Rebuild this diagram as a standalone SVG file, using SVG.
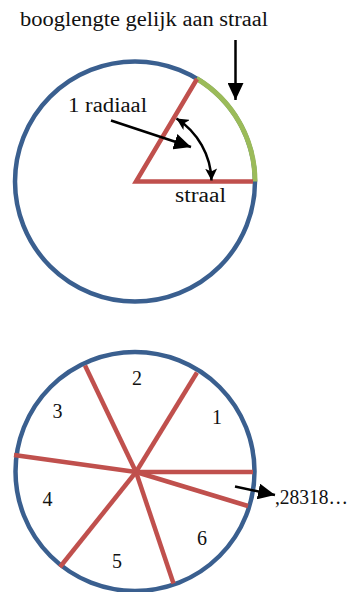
<svg xmlns="http://www.w3.org/2000/svg" width="360" height="592" viewBox="0 0 360 592">
<style>
.circle{fill:#ffffff;stroke:#3A5F8F;stroke-width:4.5}
.red{fill:none;stroke:#C0504D;stroke-width:4.5;stroke-linecap:butt}
.green{fill:none;stroke:#9BBB59;stroke-width:5}
.arrow{fill:none;stroke:#000000;stroke-width:2.5}
.lbl{font-family:"Liberation Serif","Times New Roman",serif;font-size:20px;fill:#111111}
</style>
<defs>
<marker id="tri" viewBox="0 0 17 16" refX="17" refY="8" markerWidth="17" markerHeight="16" markerUnits="userSpaceOnUse" orient="auto">
<path d="M0,0 L17,8 L0,16 Z" fill="#000"/>
</marker>
<marker id="stealth" viewBox="0 0 12 12" refX="12" refY="6" markerWidth="12" markerHeight="12" markerUnits="userSpaceOnUse" orient="auto-start-reverse">
<path d="M0,0 L12,6 L0,12 L3,6 Z" fill="#000"/>
</marker>
</defs>

<g id="top-circle">
<circle class="circle" cx="135" cy="181.5" r="120"/>
<path class="green" d="M 196.5 78.5 A 120 120 0 0 1 255 181.5"/>
<path class="red" d="M 253 181.5 L 136 181.5 L 197 79" stroke-linejoin="miter"/>
</g>

<g id="top-label">
<text class="lbl" x="20" y="26" textLength="248" lengthAdjust="spacingAndGlyphs">booglengte gelijk aan straal</text>
</g>
<g id="radiaal-label">
<text class="lbl" x="68" y="111.5" textLength="79" lengthAdjust="spacingAndGlyphs">1 radiaal</text>
</g>
<g id="straal-label">
<text class="lbl" x="175" y="201.5" textLength="51" lengthAdjust="spacingAndGlyphs">straal</text>
</g>

<g id="bottom-circle">
<circle class="circle" cx="135" cy="471.5" r="119.5"/>
<g class="red">
<line x1="136" y1="472" x2="253" y2="472"/>
<line x1="136" y1="472" x2="197" y2="372.5"/>
<line x1="136" y1="472" x2="85" y2="365.5"/>
<line x1="136" y1="472" x2="14" y2="455"/>
<line x1="136" y1="472" x2="60" y2="567"/>
<line x1="136" y1="472" x2="173.5" y2="583.5"/>
<line x1="136" y1="472" x2="248" y2="506"/>
</g>
</g>

<g id="sector-labels" class="lbl" text-anchor="middle">
<text x="217" y="424">1</text>
<text x="137" y="385">2</text>
<text x="57.5" y="418">3</text>
<text x="47.5" y="506">4</text>
<text x="117" y="567.5">5</text>
<text x="202" y="545">6</text>
</g>
<g id="remainder-label">
<text class="lbl" x="275" y="504" textLength="73" lengthAdjust="spacingAndGlyphs">,28318…</text>
</g>

<g id="connectors">
<line class="arrow" x1="235.5" y1="40" x2="235.5" y2="100" marker-end="url(#tri)"/>
<line class="arrow" x1="111" y1="120.5" x2="191" y2="147" marker-end="url(#tri)"/>
<path class="arrow" d="M 176.5 118.5 A 76 76 0 0 1 211.5 180.5" marker-start="url(#stealth)" marker-end="url(#stealth)"/>
<line class="arrow" x1="235" y1="486.5" x2="275" y2="495" marker-end="url(#tri)"/>
</g>
</svg>
